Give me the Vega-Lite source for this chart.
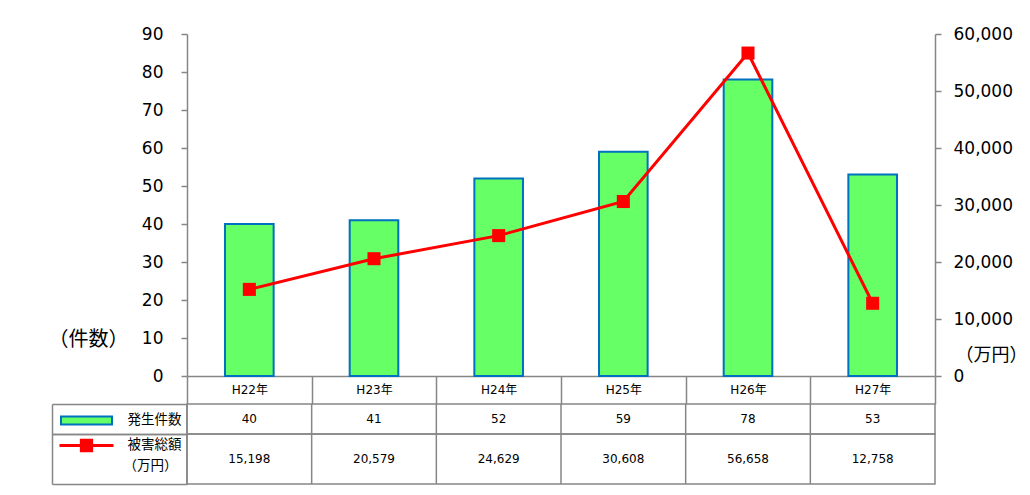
{
  "$schema": "https://vega.github.io/schema/vega-lite/v6.json",
  "background": "white",
  "padding": {"left": 48, "top": 25, "right": 2, "bottom": 5},
  "config": {
    "font": "DejaVu Sans, Noto Sans CJK JP",
    "view": {"stroke": null},
    "axis": {"labelColor": "#000000", "titleColor": "#000000", "grid": false}
  },
  "datasets": {
    "d": [
      {"year": "H22年", "count": 40, "damage": 15198},
      {"year": "H23年", "count": 41, "damage": 20579},
      {"year": "H24年", "count": 52, "damage": 24629},
      {"year": "H25年", "count": 59, "damage": 30608},
      {"year": "H26年", "count": 78, "damage": 56658},
      {"year": "H27年", "count": 53, "damage": 12758}
    ]
  },
  "bounds": "flush",
  "spacing": 28,
  "resolve": {"scale": {"x": "independent", "y": "independent"}},
  "vconcat": [
    {
      "width": 748,
      "height": 342,
      "data": {"name": "d"},
      "encoding": {
        "x": {
          "field": "year", "type": "nominal", "sort": null,
          "scale": {"paddingInner": 0, "paddingOuter": 0},
          "axis": {
            "orient": "bottom", "title": null, "labelAngle": 0,
            "domainColor": "#868686", "domainWidth": 1.5,
            "tickBand": "extent", "tickSize": 28, "tickColor": "#868686", "tickWidth": 1.5,
            "labelFontSize": 12, "labelPadding": -20
          }
        }
      },
      "layer": [
        {
          "mark": {"type": "bar", "stroke": "#0070C0", "strokeWidth": 2, "width": {"band": 0.39}},
          "encoding": {
            "y": {
              "field": "count", "type": "quantitative",
              "scale": {"domain": [0, 90], "nice": false},
              "axis": {
                "orient": "left", "values": [0, 10, 20, 30, 40, 50, 60, 70, 80, 90],
                "domainColor": "#868686", "domainWidth": 1.5,
                "tickColor": "#868686", "tickWidth": 1.5, "tickSize": 6,
                "labelFontSize": 17, "labelPadding": 18,
                "title": "（件数）", "titleAngle": 0, "titleX": -99, "titleY": 305,
                "titleFontSize": 20, "titleFontWeight": "normal", "titleFont": "Noto Sans CJK JP",
                "titleAlign": "center", "titleBaseline": "middle"
              }
            },
            "fill": {
              "datum": "発生件数",
              "scale": {"domain": ["発生件数"], "range": ["#66FF66"]},
              "legend": {
                "orient": "none", "legendX": -127, "legendY": 360, "padding": 0,
                "title": null, "labelExpr": "''", "labelOpacity": 0,
                "symbolType": "M-1,-0.157H1V0.157H-1Z", "symbolSize": 2601,
                "symbolStrokeColor": "#0070C0", "symbolStrokeWidth": 2
              }
            }
          }
        },
        {
          "encoding": {
            "y": {
              "field": "damage", "type": "quantitative",
              "scale": {"domain": [0, 60000], "nice": false},
              "axis": {
                "orient": "right", "values": [0, 10000, 20000, 30000, 40000, 50000, 60000],
                "labelExpr": "format(datum.value, ',')",
                "domainColor": "#868686", "domainWidth": 1.5,
                "tickColor": "#868686", "tickWidth": 1.5, "tickSize": 6,
                "labelFontSize": 17, "labelPadding": 12,
                "title": "（万円）", "titleAngle": 0, "titleX": 56, "titleY": 321,
                "titleFontSize": 18, "titleFontWeight": "normal", "titleFont": "Noto Sans CJK JP",
                "titleAlign": "center", "titleBaseline": "middle"
              }
            }
          },
          "layer": [
            {
              "mark": {"type": "line", "strokeWidth": 3},
              "encoding": {
                "stroke": {
                  "datum": "被害総額",
                  "scale": {"domain": ["被害総額"], "range": ["#FF0000"]},
                  "legend": {
                    "orient": "none", "legendX": -129, "legendY": 383, "padding": 0,
                    "title": null, "labelExpr": "''", "labelOpacity": 0,
                    "symbolType": "M-1,0H1M-0.19,-0.19H0.19V0.19H-0.19Z", "symbolSize": 2916,
                    "symbolFillColor": "#FF0000", "symbolStrokeWidth": 3
                  }
                }
              }
            },
            {
              "mark": {"type": "point", "shape": "square", "filled": true, "size": 170, "color": "#FF0000", "opacity": 1}
            }
          ]
        }
      ],
      "resolve": {"scale": {"y": "independent"}}
    },
    {
      "spacing": 0,
      "bounds": "flush",
      "vconcat": [
        {
          "width": 748,
          "height": 30,
          "view": {"stroke": "#868686", "strokeWidth": 1.5},
          "data": {"name": "d"},
          "encoding": {
            "x": {"field": "year", "type": "nominal", "sort": null, "scale": {"paddingInner": 0, "paddingOuter": 0}, "axis": null}
          },
          "layer": [
            {
              "mark": {"type": "rule", "color": "#868686", "strokeWidth": 1.5},
              "encoding": {"x": {"field": "year", "type": "nominal", "sort": null, "bandPosition": 0}}
            },
            {
              "mark": {"type": "text", "fontSize": 12, "color": "#000000"},
              "encoding": {
                "text": {"field": "count", "type": "quantitative", "format": ","},
                "y": {
                  "datum": "発生件数", "type": "nominal",
                  "scale": {"paddingInner": 0, "paddingOuter": 0},
                  "axis": {
                    "orient": "left", "offset": 135, "title": null,
                    "domainColor": "#868686", "domainWidth": 1.5,
                    "tickBand": "extent", "tickSize": -135, "tickColor": "#868686", "tickWidth": 1.5,
                    "labelFontSize": 13.5, "labelPadding": 6, "labelAlign": "right",
                    "labelFont": "Noto Sans CJK JP"
                  }
                }
              }
            }
          ]
        },
        {
          "width": 748,
          "height": 50,
          "view": {"stroke": "#868686", "strokeWidth": 1.5},
          "data": {"name": "d"},
          "encoding": {
            "x": {"field": "year", "type": "nominal", "sort": null, "scale": {"paddingInner": 0, "paddingOuter": 0}, "axis": null}
          },
          "layer": [
            {
              "mark": {"type": "rule", "color": "#868686", "strokeWidth": 1.5},
              "encoding": {"x": {"field": "year", "type": "nominal", "sort": null, "bandPosition": 0}}
            },
            {
              "mark": {"type": "text", "fontSize": 12, "color": "#000000"},
              "encoding": {
                "text": {"field": "damage", "type": "quantitative", "format": ","},
                "y": {
                  "datum": "被害総額", "type": "nominal",
                  "scale": {"paddingInner": 0, "paddingOuter": 0},
                  "axis": {
                    "orient": "left", "offset": 135,
                    "domainColor": "#868686", "domainWidth": 1.5,
                    "tickBand": "extent", "tickSize": -135, "tickColor": "#868686", "tickWidth": 1.5,
                    "labelFontSize": 13.5, "labelPadding": 6, "labelAlign": "right", "labelOffset": -15,
                    "labelFont": "Noto Sans CJK JP",
                    "title": "（万円）", "titleAngle": 0, "titleX": 98, "titleY": 31,
                    "titleFontSize": 13.5, "titleFontWeight": "normal", "titleFont": "Noto Sans CJK JP",
                    "titleAlign": "center", "titleBaseline": "middle"
                  }
                }
              }
            }
          ]
        }
      ]
    }
  ]
}
